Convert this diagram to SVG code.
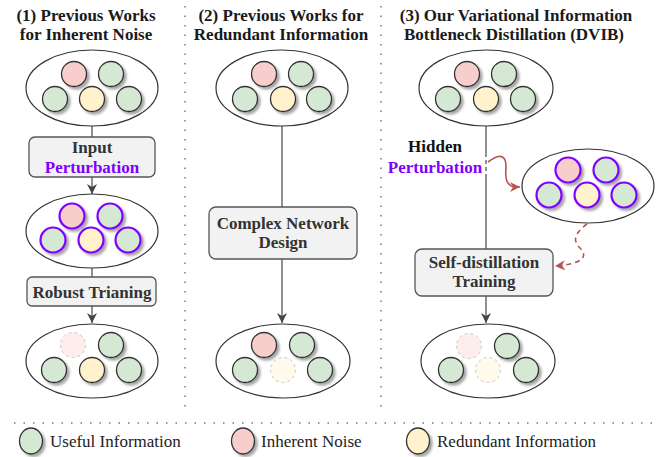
<svg xmlns="http://www.w3.org/2000/svg" width="662" height="457" viewBox="0 0 662 457">
<style>
.title{font-family:'Liberation Serif',serif;font-weight:bold;font-size:17px;fill:#1a1a1a;text-anchor:middle}
.bt{font-family:'Liberation Serif',serif;font-weight:bold;font-size:17px;fill:#333;text-anchor:middle}
.pu{fill:#7f00ff}
.leg{font-family:'Liberation Serif',serif;font-size:17px;fill:#222}
.ell{fill:#fff;stroke:#333;stroke-width:1.2}
.box{fill:#f2f2f2;stroke:#555;stroke-width:1.3}
.g{fill:#d5e8d4;stroke:#333;stroke-width:1.3}
.p{fill:#f8cecc;stroke:#333;stroke-width:1.3}
.y{fill:#fff2cc;stroke:#333;stroke-width:1.3}
.pp{stroke:#7f00ff;stroke-width:2.2}
.fp{fill:#f8cecc;fill-opacity:0.35;stroke:#c8c8c8;stroke-width:1;stroke-dasharray:3 3}
.fy{fill:#fff2cc;fill-opacity:0.4;stroke:#c8c8c8;stroke-width:1;stroke-dasharray:3 3}
.ln{stroke:#555;stroke-width:1.3;fill:none}
.sep{stroke:#999;stroke-width:2;stroke-dasharray:1.5 8;fill:none}
.red{stroke:#b85450;stroke-width:1.6;fill:none}
</style>
<defs>
<filter id="sh" x="-30%" y="-30%" width="170%" height="170%">
<feDropShadow dx="2.5" dy="2.5" stdDeviation="0.8" flood-color="#000" flood-opacity="0.35"/>
</filter>
<marker id="ar" markerWidth="12" markerHeight="12" refX="10" refY="5" orient="auto" markerUnits="userSpaceOnUse">
<path d="M0,0 L10,5 L0,10 L3,5 Z" fill="#444"/>
</marker>
<marker id="arr" markerWidth="12" markerHeight="12" refX="10" refY="5" orient="auto" markerUnits="userSpaceOnUse">
<path d="M0,0 L10,5 L0,10 L3,5 Z" fill="#b85450"/>
</marker>
</defs>
<rect width="662" height="457" fill="#fff"/>

<g id="separators">
<line class="sep" x1="185" y1="6" x2="185" y2="414"/>
<line class="sep" x1="381" y1="6" x2="381" y2="414"/>
<line class="sep" x1="14" y1="423" x2="652" y2="423"/>
</g>

<g id="titles" font-family="Liberation Serif" font-weight="bold" font-size="17">
<text class="title" x="86" y="21">(1) Previous Works</text>
<text class="title" x="86" y="40">for Inherent Noise</text>
<text class="title" x="281" y="21">(2) Previous Works for</text>
<text class="title" x="281" y="40">Redundant Information</text>
<text class="title" x="516" y="21">(3) Our Variational Information</text>
<text class="title" x="514" y="40">Bottleneck Distillation (DVIB)</text>
</g>

<g id="connectors">
<line class="ln" x1="92" y1="126" x2="92" y2="137"/>
<line class="ln" x1="92" y1="177" x2="92" y2="194" marker-end="url(#ar)"/>
<line class="ln" x1="92" y1="268" x2="92" y2="277"/>
<line class="ln" x1="92" y1="306" x2="92" y2="323" marker-end="url(#ar)"/>
<line class="ln" x1="282" y1="126" x2="282" y2="207"/>
<line class="ln" x1="282" y1="259" x2="282" y2="323" marker-end="url(#ar)"/>
<line class="ln" x1="486" y1="126" x2="486" y2="153"/>
<line class="ln" x1="486" y1="153" x2="486" y2="176" stroke-dasharray="4 3"/>
<line class="ln" x1="486" y1="176" x2="486" y2="249"/>
<line class="ln" x1="486" y1="296" x2="486" y2="323" marker-end="url(#ar)"/>
<path class="red" d="M488,162 C496,156 502,154 505,160 C508,167 503,176 508,183 C511,187 514,187 520,187" marker-end="url(#arr)"/>
<path class="red" d="M587,224 C575,233 572,240 580,248 C588,256 584,264 555,266" stroke-dasharray="5 4" marker-end="url(#arr)"/>
</g>

<g id="n1-input">
<ellipse class="ell" cx="92" cy="88" rx="66" ry="38"/>
<g filter="url(#sh)">
<circle class="p" cx="74" cy="74" r="12.5"/><circle class="g" cx="111" cy="74" r="12.5"/>
<circle class="g" cx="55" cy="99" r="12.5"/><circle class="y" cx="92" cy="99" r="12.5"/><circle class="g" cx="129" cy="99" r="12.5"/>
</g>
</g>
<g id="n1-box1" font-family="Liberation Serif" font-weight="bold" font-size="17">
<rect class="box" x="29" y="137" width="126" height="40" rx="6"/>
<text class="bt" x="92" y="153">Input</text>
<text class="bt pu" x="92" y="173">Perturbation</text>
</g>
<g id="n1-pert">
<ellipse class="ell" cx="92" cy="231" rx="66" ry="37"/>
<g filter="url(#sh)">
<circle class="p pp" cx="72" cy="216" r="12.5"/><circle class="g pp" cx="110" cy="216" r="12.5"/>
<circle class="g pp" cx="53" cy="240" r="12.5"/><circle class="y pp" cx="91" cy="240" r="12.5"/><circle class="g pp" cx="128" cy="240" r="12.5"/>
</g>
</g>
<g id="n1-box2" font-family="Liberation Serif" font-weight="bold" font-size="17">
<rect class="box" x="27" y="277" width="129" height="29" rx="5"/>
<text class="bt" x="92" y="298">Robust Trianing</text>
</g>
<g id="n1-out">
<ellipse class="ell" cx="92" cy="361" rx="66" ry="37"/>
<circle class="fp" cx="73" cy="345" r="12.5"/>
<g filter="url(#sh)">
<circle class="g" cx="111" cy="345" r="12.5"/>
<circle class="g" cx="54" cy="370" r="12.5"/><circle class="y" cx="92" cy="370" r="12.5"/><circle class="g" cx="129" cy="370" r="12.5"/>
</g>
</g>

<g id="n2-input">
<ellipse class="ell" cx="282" cy="88" rx="66" ry="38"/>
<g filter="url(#sh)">
<circle class="p" cx="264" cy="74" r="12.5"/><circle class="g" cx="301" cy="74" r="12.5"/>
<circle class="g" cx="245" cy="99" r="12.5"/><circle class="y" cx="283" cy="99" r="12.5"/><circle class="g" cx="319" cy="99" r="12.5"/>
</g>
</g>
<g id="n2-box" font-family="Liberation Serif" font-weight="bold" font-size="17">
<rect class="box" x="209" y="207" width="148" height="52" rx="7"/>
<text class="bt" x="283" y="229">Complex Network</text>
<text class="bt" x="283" y="248">Design</text>
</g>
<g id="n2-out">
<ellipse class="ell" cx="283" cy="361" rx="67" ry="37"/>
<circle class="fy" cx="283" cy="370" r="12.5"/>
<g filter="url(#sh)">
<circle class="p" cx="264" cy="345" r="12.5"/><circle class="g" cx="302" cy="345" r="12.5"/>
<circle class="g" cx="245" cy="370" r="12.5"/><circle class="g" cx="320" cy="370" r="12.5"/>
</g>
</g>

<g id="n3-input">
<ellipse class="ell" cx="486" cy="88" rx="67" ry="38"/>
<g filter="url(#sh)">
<circle class="p" cx="467" cy="74" r="12.5"/><circle class="g" cx="504" cy="74" r="12.5"/>
<circle class="g" cx="448" cy="99" r="12.5"/><circle class="y" cx="486" cy="99" r="12.5"/><circle class="g" cx="523" cy="99" r="12.5"/>
</g>
</g>
<g id="n3-label" font-family="Liberation Serif" font-weight="bold" font-size="17">
<text class="bt" x="435" y="152" style="fill:#111">Hidden</text>
<text class="bt pu" x="435" y="173">Perturbation</text>
</g>
<g id="n3-pert">
<ellipse class="ell" cx="588" cy="186" rx="66" ry="37"/>
<g filter="url(#sh)">
<circle class="p pp" cx="568" cy="170" r="12.5"/><circle class="g pp" cx="606" cy="170" r="12.5"/>
<circle class="g pp" cx="549" cy="195" r="12.5"/><circle class="y pp" cx="587" cy="195" r="12.5"/><circle class="g pp" cx="624" cy="195" r="12.5"/>
</g>
</g>
<g id="n3-box" font-family="Liberation Serif" font-weight="bold" font-size="17">
<rect class="box" x="415" y="249" width="138" height="47" rx="7"/>
<text class="bt" x="484" y="268">Self-distillation</text>
<text class="bt" x="484" y="287">Training</text>
</g>
<g id="n3-out">
<ellipse class="ell" cx="488" cy="361" rx="67" ry="37"/>
<circle class="fp" cx="469" cy="346" r="12.5"/>
<circle class="fy" cx="488" cy="370" r="12.5"/>
<g filter="url(#sh)">
<circle class="g" cx="507" cy="346" r="12.5"/>
<circle class="g" cx="451" cy="370" r="12.5"/><circle class="g" cx="526" cy="370" r="12.5"/>
</g>
</g>

<g id="legend" font-family="Liberation Serif" font-size="17">
<g filter="url(#sh)">
<ellipse class="g" cx="31" cy="441" rx="11.5" ry="13"/>
<ellipse class="p" cx="243" cy="441" rx="11.5" ry="13"/>
<ellipse class="y" cx="418" cy="441" rx="11.5" ry="13"/>
</g>
<text class="leg" x="50" y="447">Useful Information</text>
<text class="leg" x="261" y="447">Inherent Noise</text>
<text class="leg" x="437" y="447">Redundant Information</text>
</g>
</svg>
